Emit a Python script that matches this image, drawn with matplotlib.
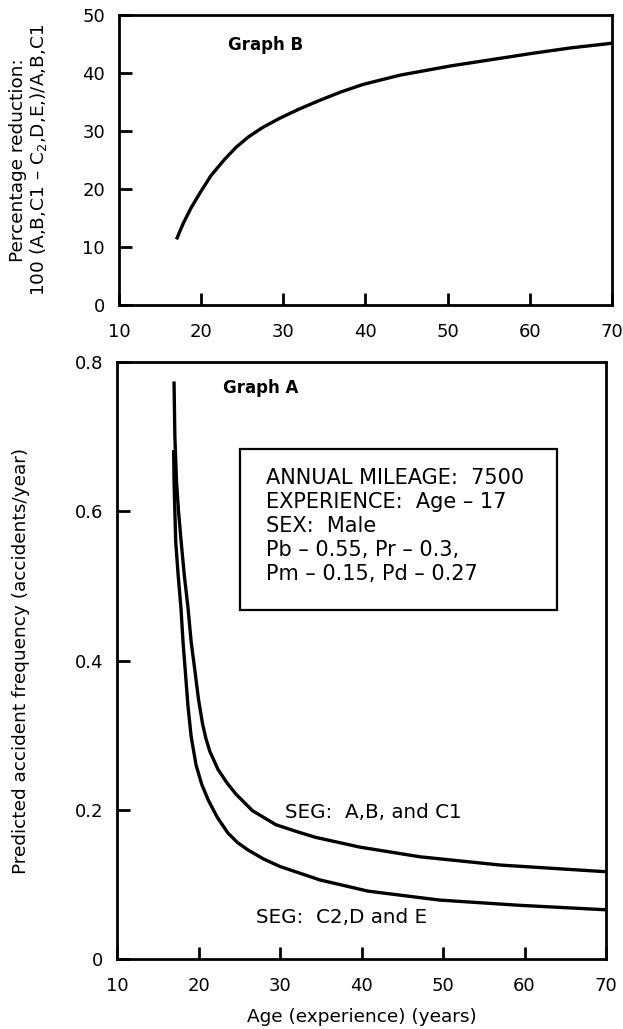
import matplotlib
matplotlib.use("Agg")
import matplotlib.pyplot as plt
import matplotlib.patches as mpatches

# Graph B: percentage reduction vs age
age_b = [17.0, 17.8, 18.8, 19.9, 21.2, 22.8, 24.2, 25.7, 27.5, 29.6, 32.0, 34.5,
         37.0, 39.7, 44.2, 50.4, 55.0, 60.5, 65.0, 70.0]
reduction_b = [11.3, 14.0, 16.8, 19.4, 22.3, 25.0, 27.1, 28.9, 30.6, 32.2, 33.8, 35.3,
               36.7, 38.0, 39.6, 41.2, 42.2, 43.4, 44.3, 45.1]

# Graph A: predicted accident frequency vs age
age_abc1 = [17.0, 17.1, 17.3, 17.55, 17.85, 18.25, 18.7, 19.1, 19.6, 20.0, 20.5, 20.9,
            21.4, 22.4, 23.5, 24.6, 26.6, 29.5, 32.0, 34.4, 39.8, 47.2, 57.0, 70.0]
freq_abc1 = [0.772, 0.70, 0.64, 0.60, 0.562, 0.515, 0.472, 0.425, 0.383, 0.348, 0.315,
             0.296, 0.278, 0.254, 0.236, 0.221, 0.199, 0.180, 0.171, 0.163, 0.150,
             0.137, 0.126, 0.117]

age_c2de = [16.95, 17.0, 17.1, 17.2, 17.5, 17.85, 18.1, 18.4, 18.7, 19.1, 19.7, 20.4,
            21.2, 22.3, 23.6, 24.8, 26.1, 28.0, 30.0, 34.9, 40.8, 49.6, 59.4, 70.0]
freq_c2de = [0.68, 0.64, 0.60, 0.56, 0.515, 0.47, 0.425, 0.383, 0.34, 0.298, 0.260,
             0.234, 0.213, 0.190, 0.169, 0.156, 0.146, 0.134, 0.124, 0.106, 0.091,
             0.079, 0.072, 0.066]

x_ticks = [10, 20, 30, 40, 50, 60, 70]
b_ticks = [0, 10, 20, 30, 40, 50]
a_ticks = [0, 0.2, 0.4, 0.6, 0.8]
a_tick_labels = ["0", "0.2", "0.4", "0.6", "0.8"]

info_lines = [
    "ANNUAL MILEAGE:  7500",
    "EXPERIENCE:  Age \u2013 17",
    "SEX:  Male",
    "Pb \u2013 0.55, Pr \u2013 0.3,",
    "Pm \u2013 0.15, Pd \u2013 0.27",
]

plt.rcParams["font.family"] = ["DejaVu Sans"]

fig = plt.figure(figsize=(6.23, 10.29), dpi=100)
ax_b = fig.add_axes([0.191, 0.7036, 0.791, 0.282])
ax_a = fig.add_axes([0.1878, 0.068, 0.785, 0.580])


def style_axes(ax):
    for sp in ax.spines.values():
        sp.set_linewidth(2.0)
    ax.tick_params(direction="in", length=9, width=2.0, labelsize=13,
                   top=False, right=False)
    ax.tick_params(axis="x", pad=13)
    ax.tick_params(axis="y", pad=10)


# ---- Graph B ----
ax_b.plot(age_b, reduction_b, color="black", lw=2.4, solid_capstyle="butt")
ax_b.set_xlim(10, 70)
ax_b.set_ylim(0, 50)
ax_b.set_xticks(x_ticks)
ax_b.set_yticks(b_ticks)
style_axes(ax_b)
ax_b.set_ylabel("Percentage reduction:\n100 (A,B,C1 \u2013 C$_2$,D,E,)/A,B,C1",
                fontsize=13.3, linespacing=1.05)
ax_b.yaxis.set_label_coords(-0.142, 0.5)
ax_b.text(23.3, 44.8, "Graph B", fontsize=12, fontweight="bold", va="center")

# ---- Graph A ----
ax_a.plot(age_abc1, freq_abc1, color="black", lw=2.4)
ax_a.plot(age_c2de, freq_c2de, color="black", lw=2.4)
ax_a.set_xlim(10, 70)
ax_a.set_ylim(0, 0.8)
ax_a.set_xticks(x_ticks)
ax_a.set_yticks(a_ticks)
ax_a.set_yticklabels(a_tick_labels)
style_axes(ax_a)
ax_a.set_xlabel("Age (experience) (years)", fontsize=13.3, labelpad=9)
ax_a.set_ylabel("Predicted accident frequency (accidents/year)", fontsize=13.3)
ax_a.yaxis.set_label_coords(-0.178, 0.5)
ax_a.text(23.0, 0.765, "Graph A", fontsize=12, fontweight="bold", va="center")

box = mpatches.Rectangle((25.1, 0.468), 64.0 - 25.1, 0.684 - 0.468,
                         fill=False, lw=1.6, edgecolor="black")
ax_a.add_patch(box)
line_y = [0.645, 0.612, 0.580, 0.548, 0.516]
for txt, y in zip(info_lines, line_y):
    ax_a.text(28.3, y, txt, fontsize=15, va="center", ha="left")

ax_a.text(30.6, 0.196, "SEG:  A,B, and C1", fontsize=14.3, va="center")
ax_a.text(27.1, 0.055, "SEG:  C2,D and E", fontsize=14.3, va="center")

fig.savefig("out.png", dpi=100)
